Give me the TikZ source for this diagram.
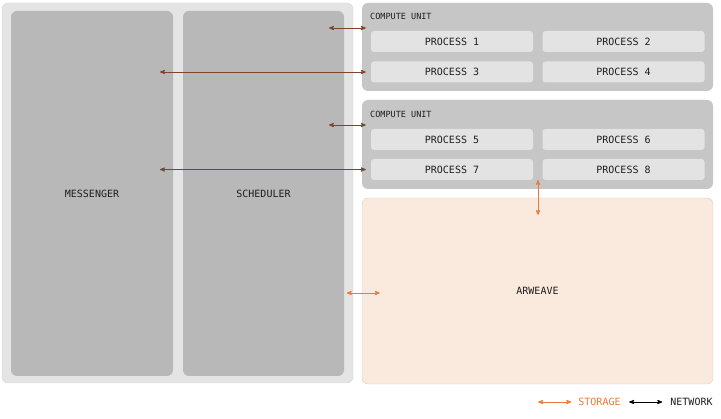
\documentclass[tikz,border=0pt]{standalone}
\usepackage{fontspec}
\setmainfont{DejaVu Sans Mono}
\usepackage{tikz}
\usetikzlibrary{arrows}
\definecolor{panelgray}{RGB}{228,228,228}
\definecolor{panelline}{RGB}{214,214,214}
\definecolor{biggray}{RGB}{184,184,184}
\definecolor{unitgray}{RGB}{198,198,198}
\definecolor{procgray}{RGB}{227,227,227}
\definecolor{arfill}{RGB}{250,233,221}
\definecolor{arline}{RGB}{216,208,202}
\definecolor{netbrown}{RGB}{122,70,48}
\definecolor{storeorange}{RGB}{236,122,62}
\definecolor{txtdark}{RGB}{30,30,30}

\begin{document}
\begin{tikzpicture}[x=1pt,y=-1pt,
        box/.style={rounded corners=6pt,inner sep=0pt,text=txtdark,font=\fontsize{10}{12}\selectfont},
        proc/.style={fill=procgray,rounded corners=3pt,minimum width=162pt,minimum height=21pt,inner sep=0pt,text=txtdark,font=\fontsize{10}{12}\selectfont},
        unitlabel/.style={anchor=west,inner sep=0pt,text=txtdark,font=\fontsize{8.5}{10}\selectfont},
        net/.style={<->,>=stealth',draw=netbrown,line width=0.8pt},
        store/.style={<->,>=stealth',draw=storeorange,line width=0.8pt}]
        \useasboundingbox [fill=white] (0,0) rectangle (721,419);
        % left side
        \node [box,fill=panelgray,draw=panelline,minimum width=351pt,minimum height=380pt] (panel) at (177.5,193) {};
        \node [box,fill=biggray,minimum width=162pt,minimum height=365pt] (msg) at (92,193.5) {MESSENGER};
        \node [box,fill=biggray,minimum width=161pt,minimum height=365pt] (sch) at (263.5,193.5) {SCHEDULER};
        % compute units
        \node [box,fill=unitgray,minimum width=351pt,minimum height=88pt] (cu1) at (537.5,47) {};
        \node [box,fill=unitgray,minimum width=351pt,minimum height=89pt] (cu2) at (537.5,144.5) {};
        \node [unitlabel] (cu1t) at (370,16) {COMPUTE UNIT};
        \node [unitlabel] (cu2t) at (370,114) {COMPUTE UNIT};
        \node [proc] (p1) at (452,41.5) {PROCESS 1};
        \node [proc] (p2) at (623.5,41.5) {PROCESS 2};
        \node [proc] (p3) at (452,72) {PROCESS 3};
        \node [proc] (p4) at (623.5,72) {PROCESS 4};
        \node [proc] (p5) at (452,139.5) {PROCESS 5};
        \node [proc] (p6) at (623.5,139.5) {PROCESS 6};
        \node [proc] (p7) at (452,169.5) {PROCESS 7};
        \node [proc] (p8) at (623.5,169.5) {PROCESS 8};
        % storage
        \node [box,fill=arfill,draw=arline,minimum width=351pt,minimum height=186pt] (ar) at (537.5,291) {ARWEAVE};
        % network links
        \coordinate (s1) at (329,28);
        \coordinate (s2) at (160,72);
        \coordinate (s3) at (329,125);
        \coordinate (s4) at (160,169.5);
        \draw [net] (s1) -- ([xshift=4pt]s1 -| cu1.west);
        \draw [net] (s2) -- ([xshift=4pt]s2 -| cu1.west);
        \draw [net] (s3) -- ([xshift=4pt]s3 -| cu2.west);
        \draw [net] (s4) -- ([xshift=4pt]s4 -| cu2.west);
        % storage links
        \coordinate (t1) at (538,180);
        \coordinate (t2) at (538,215);
        \draw [store] (t1) -- (t2);
        \draw [store] ([xshift=-15pt,yshift=-2pt]ar.west) -- ([xshift=18pt,yshift=-2pt]ar.west);
        % legend
        \node [inner sep=0pt,text=storeorange,font=\fontsize{10}{12}\selectfont] (lstore) at (599.5,402) {STORAGE};
        \node [inner sep=0pt,text=txtdark,font=\fontsize{10}{12}\selectfont] (lnet) at (691.5,402) {NETWORK};
        \draw [store] ([xshift=-40pt]lstore.west) -- ([xshift=-7pt]lstore.west);
        \draw [<->,>=stealth',line width=0.8pt,black] ([xshift=-41pt]lnet.west) -- ([xshift=-8pt]lnet.west);
\end{tikzpicture}
\end{document}
